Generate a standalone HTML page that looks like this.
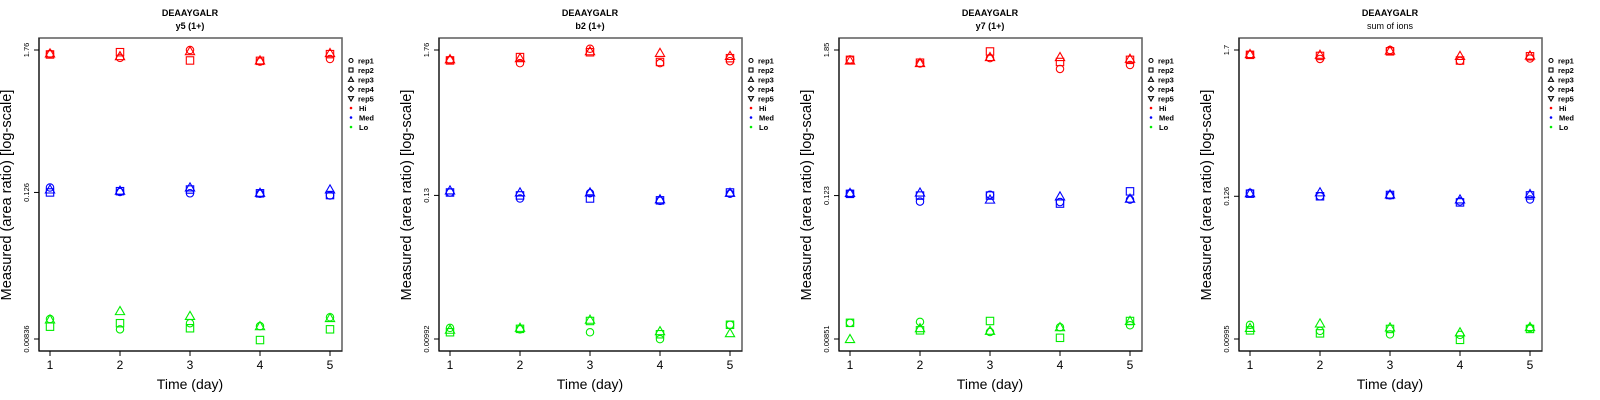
<!DOCTYPE html>
<html><head><meta charset="utf-8"><style>
html,body{margin:0;padding:0;background:#fff;}
svg{display:block;font-family:"Liberation Sans",sans-serif;}
</style></head><body>
<svg id="chart" width="1600" height="400"></svg>
<script>
const days = [1,2,3,4,5];
const reps = ["rep1","rep2","rep3","rep4","rep5"];
const titles = ["y5 (1+)","b2 (1+)","y7 (1+)","sum of ions"];
const yMaxTicks = [1.76,1.76,1.85,1.7];
const yMidTicks = [0.126,0.13,0.123,0.126];
const yMinTicks = [0.00836,0.00992,0.00851,0.00995];
const yTickLabels = [["1.76","0.126","0.00836"],["1.76","0.13","0.00992"],["1.85","0.123","0.00851"],["1.7","0.126","0.00995"]];
// values[day][rep] (rep4/rep5 not plotted in the reference -> null)
const p1Hi = [[1.64,1.62,1.65,null,null],[1.52,1.69,1.57,null,null],[1.76,1.45,1.72,null,null],[1.42,1.44,1.45,null,null],[1.49,1.63,1.66,null,null]];
const p1Med = [[0.138,0.126,0.133,null,null],[0.127,0.129,0.130,null,null],[0.124,0.133,0.138,null,null],[0.123,0.124,0.125,null,null],[0.119,0.120,0.133,null,null]];
const p1Lo = [[0.0121,0.0105,0.0120,null,null],[0.0100,0.0112,0.0140,null,null],[0.0112,0.0102,0.0128,null,null],[0.0106,0.0082,0.0106,null,null],[0.0125,0.0100,0.0123,null,null]];
const p2Hi = [[1.47,1.46,1.49,null,null],[1.39,1.55,1.52,null,null],[1.80,1.69,1.72,null,null],[1.39,1.42,1.67,null,null],[1.44,1.52,1.58,null,null]];
const p2Med = [[0.137,0.137,0.142,null,null],[0.123,0.130,0.137,null,null],[0.135,0.123,0.137,null,null],[0.118,0.119,0.121,null,null],[0.134,0.137,0.136,null,null]];
const p2Lo = [[0.0121,0.0112,0.0117,null,null],[0.0118,0.0119,0.0121,null,null],[0.0112,0.0137,0.0140,null,null],[0.0099,0.0108,0.0114,null,null],[0.0128,0.0128,0.0110,null,null]];
const p3Hi = [[1.55,1.54,1.52,null,null],[1.44,1.46,1.45,null,null],[1.59,1.80,1.62,null,null],[1.30,1.48,1.62,null,null],[1.40,1.54,1.57,null,null]];
const p3Med = [[0.128,0.127,0.129,null,null],[0.110,0.123,0.130,null,null],[0.125,0.123,0.114,null,null],[0.109,0.106,0.121,null,null],[0.114,0.133,0.116,null,null]];
const p3Lo = [[0.0115,0.0115,0.0085,null,null],[0.0117,0.0100,0.0104,null,null],[0.0097,0.0119,0.0099,null,null],[0.0106,0.0087,0.0106,null,null],[0.0110,0.0119,0.0119,null,null]];
const p4Hi = [[1.57,1.56,1.58,null,null],[1.45,1.53,1.56,null,null],[1.70,1.66,1.68,null,null],[1.40,1.41,1.53,null,null],[1.46,1.52,1.54,null,null]];
const p4Med = [[0.134,0.132,0.133,null,null],[0.126,0.126,0.135,null,null],[0.128,0.129,0.130,null,null],[0.115,0.113,0.119,null,null],[0.119,0.128,0.131,null,null]];
const p4Lo = [[0.0128,0.0116,0.0121,null,null],[0.0115,0.0110,0.0131,null,null],[0.0108,0.0119,0.0122,null,null],[0.0107,0.0098,0.0112,null,null],[0.0121,0.0119,0.0123,null,null]];

const panels = [[p1Hi,p1Med,p1Lo],[p2Hi,p2Med,p2Lo],[p3Hi,p3Med,p3Lo],[p4Hi,p4Med,p4Lo]];
const levelNames = ["Hi","Med","Lo"];
const levelColors = ["#ff0000","#0000ff","#00ee00"];

const NS = "http://www.w3.org/2000/svg";
const svg = document.getElementById('chart');
function mk(tag, attrs, parent){const e=document.createElementNS(NS,tag);for(const k in attrs)e.setAttribute(k,attrs[k]);(parent||svg).appendChild(e);return e;}

function marker(g, shape, cx, cy, color, s){
  let e;
  if(shape===0){e=mk('circle',{cx:cx,cy:cy,r:s,fill:'none',stroke:color,'stroke-width':1.1},g);}
  else if(shape===1){e=mk('rect',{x:cx-s,y:cy-s,width:2*s,height:2*s,fill:'none',stroke:color,'stroke-width':1.1},g);}
  else if(shape===2){const h=s*1.25;e=mk('polygon',{points:`${cx},${cy-h} ${cx-h},${cy+h*0.75} ${cx+h},${cy+h*0.75}`,fill:'none',stroke:color,'stroke-width':1.1},g);}
  else if(shape===3){const h=s*1.3;e=mk('polygon',{points:`${cx},${cy-h} ${cx+h},${cy} ${cx},${cy+h} ${cx-h},${cy}`,fill:'none',stroke:color,'stroke-width':1.1},g);}
  else {const h=s*1.25;e=mk('polygon',{points:`${cx},${cy+h} ${cx-h},${cy-h*0.75} ${cx+h},${cy-h*0.75}`,fill:'none',stroke:color,'stroke-width':1.1},g);}
  return e;
}

panels.forEach((pd, pi) => {
  const ox = pi*400;
  const g = mk('g',{});
  
  
  const L=39+ox, R=342+ox, T=38, B=351;
  const lmax=Math.log10(yMaxTicks[pi]), lmin=Math.log10(yMinTicks[pi]);
  const xs = d => ox + 50 + (d-1)*70;
  const ys = v => 339 - (Math.log10(v)-lmin)/(lmax-lmin)*289;

  const t1=mk('text',{x:ox+190,y:16,'text-anchor':'middle','font-size':9,'font-weight':'bold'},g);t1.textContent='DEAAYGALR';
  
  
  const t2=mk('text',{x:ox+190,y:29,'text-anchor':'middle','font-size':9,'font-weight':pi===3?'normal':'bold'},g);t2.textContent=titles[pi];
  
  

  const fr=mk('rect',{x:L,y:T,width:R-L,height:B-T,fill:'none',stroke:'#666','stroke-width':1.6},g);
  
  
  mk('line',{x1:L,y1:T,x2:L,y2:B,stroke:'#000','stroke-width':1},g);
  mk('line',{x1:L,y1:B,x2:R,y2:B,stroke:'#000','stroke-width':1},g);

  days.forEach(d=>{
    mk('line',{x1:xs(d),y1:B,x2:xs(d),y2:B+5,stroke:'#000'},g);
    const tl=mk('text',{x:xs(d),y:369,'text-anchor':'middle','font-size':12},g);tl.textContent=String(d);
    
    
  });
  [yMaxTicks[pi],yMidTicks[pi],yMinTicks[pi]].forEach((v,i)=>{
    const y=ys(v);
    mk('line',{x1:L-5,y1:y,x2:L,y2:y,stroke:'#000'},g);
    const tl=mk('text',{x:0,y:0,'text-anchor':'middle','font-size':7.5,transform:`translate(${ox+29},${y}) rotate(-90)`},g);
    tl.textContent=yTickLabels[pi][i];
    
    
  });
  const xl=mk('text',{x:ox+190,y:389,'text-anchor':'middle','font-size':14},g);xl.textContent='Time (day)';
  
  
  const yl=mk('text',{x:0,y:0,'text-anchor':'middle','font-size':14.6,transform:`translate(${ox+11},195) rotate(-90)`},g);yl.textContent='Measured (area ratio) [log-scale]';
  
  

  pd.forEach((lvl, li)=>{
    lvl.forEach((vals, di)=>{
      vals.forEach((v, ri)=>{
        if(v===null) return;
        const m=marker(g, ri, xs(days[di]), ys(v), levelColors[li], 3.7);
        
        
      });
    });
  });

  const lg=mk('g',{},g);
  
  
  reps.forEach((r,i)=>{
    const y=60.5+i*9.5;
    marker(lg,i,ox+351,y,'#000',2);
    const tt=mk('text',{x:ox+358,y:y+2.8,'font-size':7.5,'font-weight':'bold'},lg);tt.textContent=r;
    
    
  });
  levelNames.forEach((n,i)=>{
    const y=108+i*9.5;
    mk('circle',{cx:ox+351,cy:y,r:1.3,fill:levelColors[i]},lg);
    const tt=mk('text',{x:ox+359,y:y+2.8,'font-size':7.5,'font-weight':'bold'},lg);tt.textContent=n;
    
    
  });
});
</script>
</body></html>
